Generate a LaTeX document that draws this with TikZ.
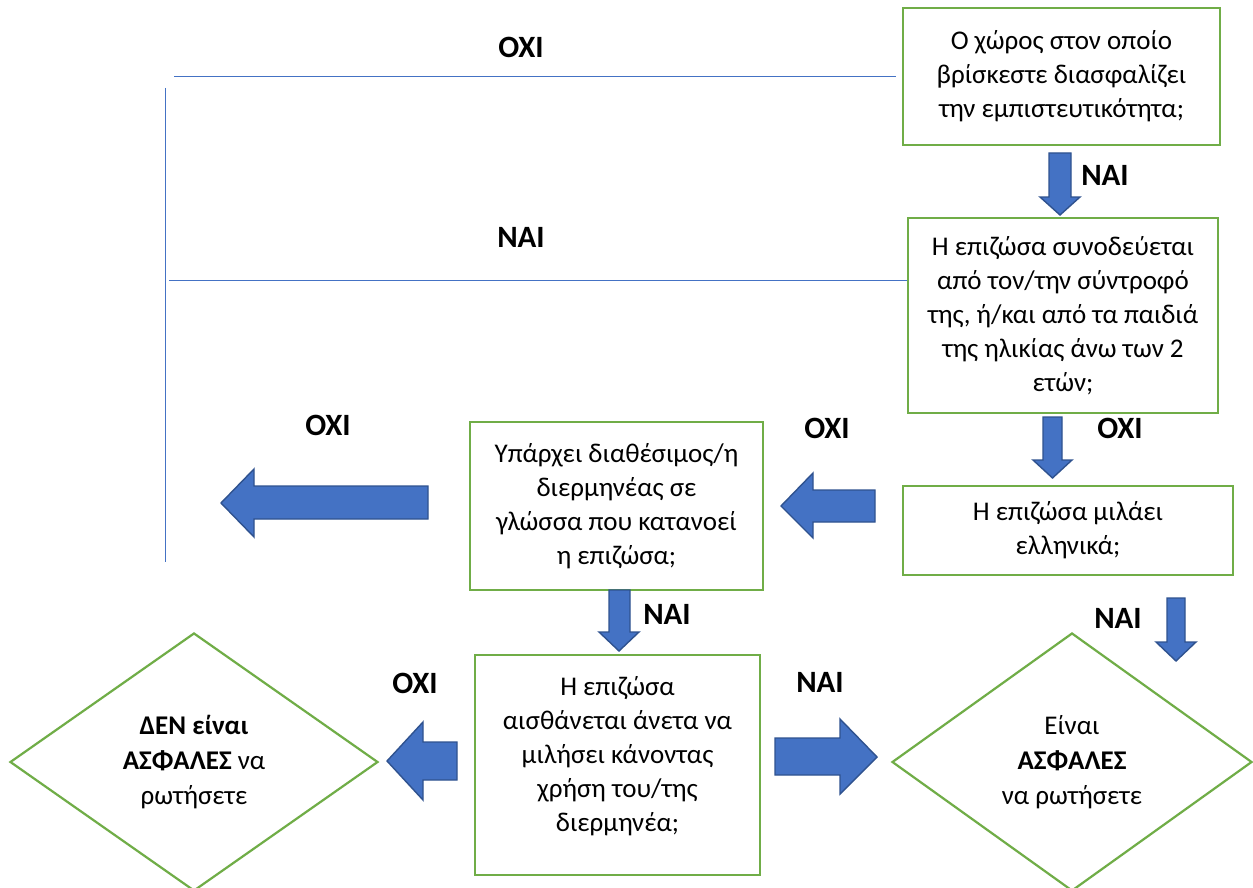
\documentclass[tikz,border=0pt]{standalone}
\usepackage{fontspec}
\setmainfont{Carlito}
\usetikzlibrary{shapes.geometric}
\definecolor{boxgreen}{HTML}{70AD47}
\definecolor{arrowblue}{HTML}{4472C4}
\definecolor{arrowedge}{HTML}{2F528F}
\tikzset{
  qbox/.style={draw=boxgreen, line width=2.4pt, inner sep=0pt, align=center,
    font=\fontsize{27}{34}\selectfont},
  qdia/.style={diamond, draw=boxgreen, line width=2.2pt, inner sep=0pt, align=center,
    font=\fontsize{27}{35}\selectfont},
  txt/.style={inner sep=0pt, align=center, font=\fontsize{27}{34}\selectfont},
  lbl/.style={inner sep=0pt, font=\fontsize{31}{36}\selectfont\bfseries},
  blockarrow/.style={fill=arrowblue, draw=arrowedge, line width=1.4pt, line join=miter},
  thinline/.style={draw=arrowblue, line width=1pt}
}
\begin{document}
\begin{tikzpicture}[x=1pt,y=-1pt]
\useasboundingbox (0,0) rectangle (1253,888);
\clip (0,0) rectangle (1253,888);
\fill[white] (0,0) rectangle (1253,888);

% boxes
\node[qbox, minimum width=317pt, minimum height=137pt] (b1) at (1061.5,76.5)
  {Ο χώρος στον οποίο\\βρίσκεστε διασφαλίζει\\την εμπιστευτικότητα;};
\node[qbox, minimum width=310pt, minimum height=195pt] (b2) at (1063,315.5)
  {Η επιζώσα συνοδεύεται\\από τον/την σύντροφό\\της, ή/και από τα παιδιά\\της ηλικίας άνω των 2\\ετών;};
\node[qbox, minimum width=330pt, minimum height=89pt] (b3) at (1068,530.5)
  {Η επιζώσα μιλάει\\ελληνικά;};
\node[qbox, minimum width=293pt, minimum height=168pt] (b4) at (616.5,506)
  {Υπάρχει διαθέσιμος/η\\διερμηνέας σε\\γλώσσα που κατανοεί\\η επιζώσα;};
\node[qbox, minimum width=285pt, minimum height=220pt] (b5) at (617.5,765) {};
\node[txt] (b5t) at (617.5,756)
  {Η επιζώσα\\αισθάνεται άνετα να\\μιλήσει κάνοντας\\χρήση του/της\\διερμηνέα;};

% diamonds
\node[qdia, minimum width=368pt, minimum height=258pt] (dl) at (194,762)
  {\textbf{ΔΕΝ είναι}\\\textbf{ΑΣΦΑΛΕΣ} να\\ρωτήσετε};
\node[qdia, minimum width=360pt, minimum height=258pt] (dr) at (1072,762)
  {Είναι\\\textbf{ΑΣΦΑΛΕΣ}\\να ρωτήσετε};

% thin connector lines
\coordinate (v1) at (165,88);
\coordinate (v2) at (165,562);
\coordinate (h1s) at (174,77);
\coordinate (h1e) at (896,77);
\coordinate (h2s) at (169,280);
\coordinate (h2e) at (b2.west |- h2s);
\draw[thinline] (v1) -- (v2);
\draw[thinline] (h1s) -- (h1e);
\draw[thinline] (h2s) -- (h2e);

% block arrows
% b1 -> b2
\draw[blockarrow] (1049,153) -- (1071,153) -- (1071,197) -- (1080,197) -- (1060,215) -- (1040,197) -- (1049,197) -- cycle;
% b2 -> b3
\draw[blockarrow] (1043,417) -- (1062,417) -- (1062,460) -- (1072,460) -- (1052.5,478) -- (1033,460) -- (1043,460) -- cycle;
% b3 -> b4
\draw[blockarrow] (875,490) -- (813,490) -- (813,473) -- (781,506) -- (813,538) -- (813,522) -- (875,522) -- cycle;
% b4 -> left
\draw[blockarrow] (428,486) -- (254,486) -- (254,469) -- (221,503) -- (254,537) -- (254,519) -- (428,519) -- cycle;
% b4 -> b5
\draw[blockarrow] (609,590) -- (630,590) -- (630,632) -- (639,632) -- (619,651) -- (599,632) -- (609,632) -- cycle;
% b3 -> dr
\draw[blockarrow] (1167,598) -- (1185,598) -- (1185,642) -- (1196,642) -- (1176,661) -- (1156,642) -- (1167,642) -- cycle;
% b5 -> dl
\draw[blockarrow] (457,742) -- (423,742) -- (423,722) -- (387,761) -- (423,800) -- (423,780) -- (457,780) -- cycle;
% b5 -> dr
\draw[blockarrow] (775,738) -- (840,738) -- (840,719) -- (877,757) -- (840,794) -- (840,775) -- (775,775) -- cycle;

% labels
\node[lbl] (l1) at (521,47) {ΟΧΙ};
\node[lbl] (l2) at (521,237) {ΝΑΙ};
\node[lbl] (l3) at (1105,175) {ΝΑΙ};
\node[lbl] (l4) at (1120,428) {ΟΧΙ};
\node[lbl] (l5) at (827,428) {ΟΧΙ};
\node[lbl] (l6) at (328,425) {ΟΧΙ};
\node[lbl] (l7) at (667,614) {ΝΑΙ};
\node[lbl] (l8) at (1118,618) {ΝΑΙ};
\node[lbl] (l9) at (415,683) {ΟΧΙ};
\node[lbl] (l10) at (820,682) {ΝΑΙ};
\end{tikzpicture}
\end{document}
